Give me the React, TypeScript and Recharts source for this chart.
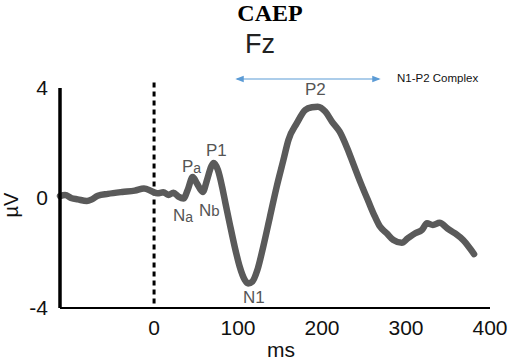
import { LineChart, Line, XAxis, YAxis, ReferenceLine } from "recharts";

/* ---------------- DATA ---------------- */

// grand-average waveform at Fz, time in ms relative to stimulus onset
const TIME_MS = [
  -112, -106, -98, -91, -80, -74, -67, -55, -38, -23, -12, -2, 4, 11, 17, 23,
  29, 35, 40, 46, 51, 58, 63, 68, 71, 76, 81, 85, 90, 96, 102, 108, 112, 117,
  123, 130, 138, 146, 154, 160, 170, 180, 188, 195, 204, 212, 221, 230, 237,
  246, 255, 263, 269, 277, 285, 295, 302, 311, 319, 325, 332, 340, 349, 358,
  368, 376, 381
];

// amplitude in microvolts
const AMPLITUDE_UV = [
  0.07, 0.11, -0.01, -0.05, -0.11, -0.05, 0.08, 0.15, 0.22, 0.27, 0.35, 0.23,
  0.17, 0.21, 0.11, 0.19, 0.05, -0.02, 0.29, 0.76, 0.53, 0.22, 0.65, 1.14,
  1.27, 1.02, 0.41, -0.19, -0.92, -1.77, -2.5, -2.98, -3.11, -3.04, -2.62,
  -1.77, -0.68, 0.41, 1.38, 2.11, 2.72, 3.2, 3.3, 3.32, 3.14, 2.77, 2.41, 1.81,
  1.26, 0.55, -0.11, -0.68, -1.04, -1.28, -1.53, -1.63, -1.47, -1.28, -1.16,
  -0.92, -0.98, -0.9, -1.1, -1.28, -1.53, -1.83, -2.04
];

const X_TICKS = [0, 100, 200, 300, 400];
const Y_TICKS = [-4, 0, 4];

const waveform = TIME_MS.map((t, i) => ({ t, uv: AMPLITUDE_UV[i] }));

/* ---------------- STYLES ---------------- */

const SANS = "'Liberation Sans', Arial, sans-serif";
const TRACE = "#5a5a5a";
const PEAK_TEXT = "#555";

export default function App() {
  return (
    <div style={{ position: "absolute", left: 0, top: 0, width: 512, height: 362, fontFamily: SANS }}>
      <LineChart
        width={512}
        height={362}
        data={waveform}
        margin={{ top: 88, right: 22, bottom: 24, left: 0 }}
      >
        <XAxis
          dataKey="t"
          type="number"
          domain={[-112, 400]}
          ticks={X_TICKS}
          tickLine={false}
          tickSize={10}
          tickMargin={2}
          height={30}
          axisLine={{ stroke: "#000", strokeWidth: 2 }}
          tick={{ fill: "#111", fontSize: 21 }}
        />
        <YAxis
          type="number"
          domain={[-4, 4]}
          ticks={Y_TICKS}
          tickLine={false}
          tickSize={10}
          tickMargin={2}
          width={60}
          axisLine={{ stroke: "#000", strokeWidth: 3.5 }}
          tick={{ fill: "#111", fontSize: 21 }}
        />
        {/* stimulus onset */}
        <ReferenceLine
          segment={[{ x: 0, y: 4.2 }, { x: 0, y: -4 }]}
          ifOverflow="visible"
          stroke="#000"
          strokeWidth={3}
          strokeDasharray="5 4"
        />
        <Line
          dataKey="uv"
          type="monotone"
          stroke={TRACE}
          strokeWidth={6.5}
          strokeLinejoin="round"
          strokeLinecap="round"
          dot={false}
          isAnimationActive={false}
        />
      </LineChart>

      {/* titles, peak names and axis names */}
      <svg
        width={512}
        height={362}
        style={{ position: "absolute", left: 0, top: 0, pointerEvents: "none" }}
      >
        <defs>
          <marker id="head" viewBox="0 0 10 10" refX="8" refY="5" markerWidth="7" markerHeight="7" orient="auto-start-reverse">
            <path d="M0,1 L10,5 L0,9 z" fill="#5b9bd5" />
          </marker>
        </defs>

        <text x={270} y={21} textAnchor="middle" fontFamily="'Liberation Serif', 'Times New Roman', serif" fontWeight="bold" fontSize={24} fill="#000">
          CAEP
        </text>
        <text x={245} y={53} fontSize={27} fill="#222">Fz</text>

        <line x1={237} y1={79} x2={379} y2={79} stroke="#5b9bd5" strokeWidth={1.2} markerStart="url(#head)" markerEnd="url(#head)" />
        <text x={397} y={82} fontSize={11.5} fill="#111">N1-P2 Complex</text>

        <g fill={PEAK_TEXT} fontSize={17}>
          <text x={182} y={172}>P<tspan fontSize={14} dy={1}>a</tspan></text>
          <text x={206} y={156}>P1</text>
          <text x={173} y={221}>N<tspan fontSize={14} dy={1}>a</tspan></text>
          <text x={199} y={216}>N<tspan fontSize={15}>b</tspan></text>
          <text x={243} y={303}>N1</text>
          <text x={305} y={95}>P2</text>
        </g>

        <text x={281} y={357} textAnchor="middle" fontSize={21} fill="#111">ms</text>
        <text x={18} y={205} textAnchor="middle" fontSize={20} fill="#111" transform="rotate(-90 18 205)">µV</text>
      </svg>
    </div>
  );
}
